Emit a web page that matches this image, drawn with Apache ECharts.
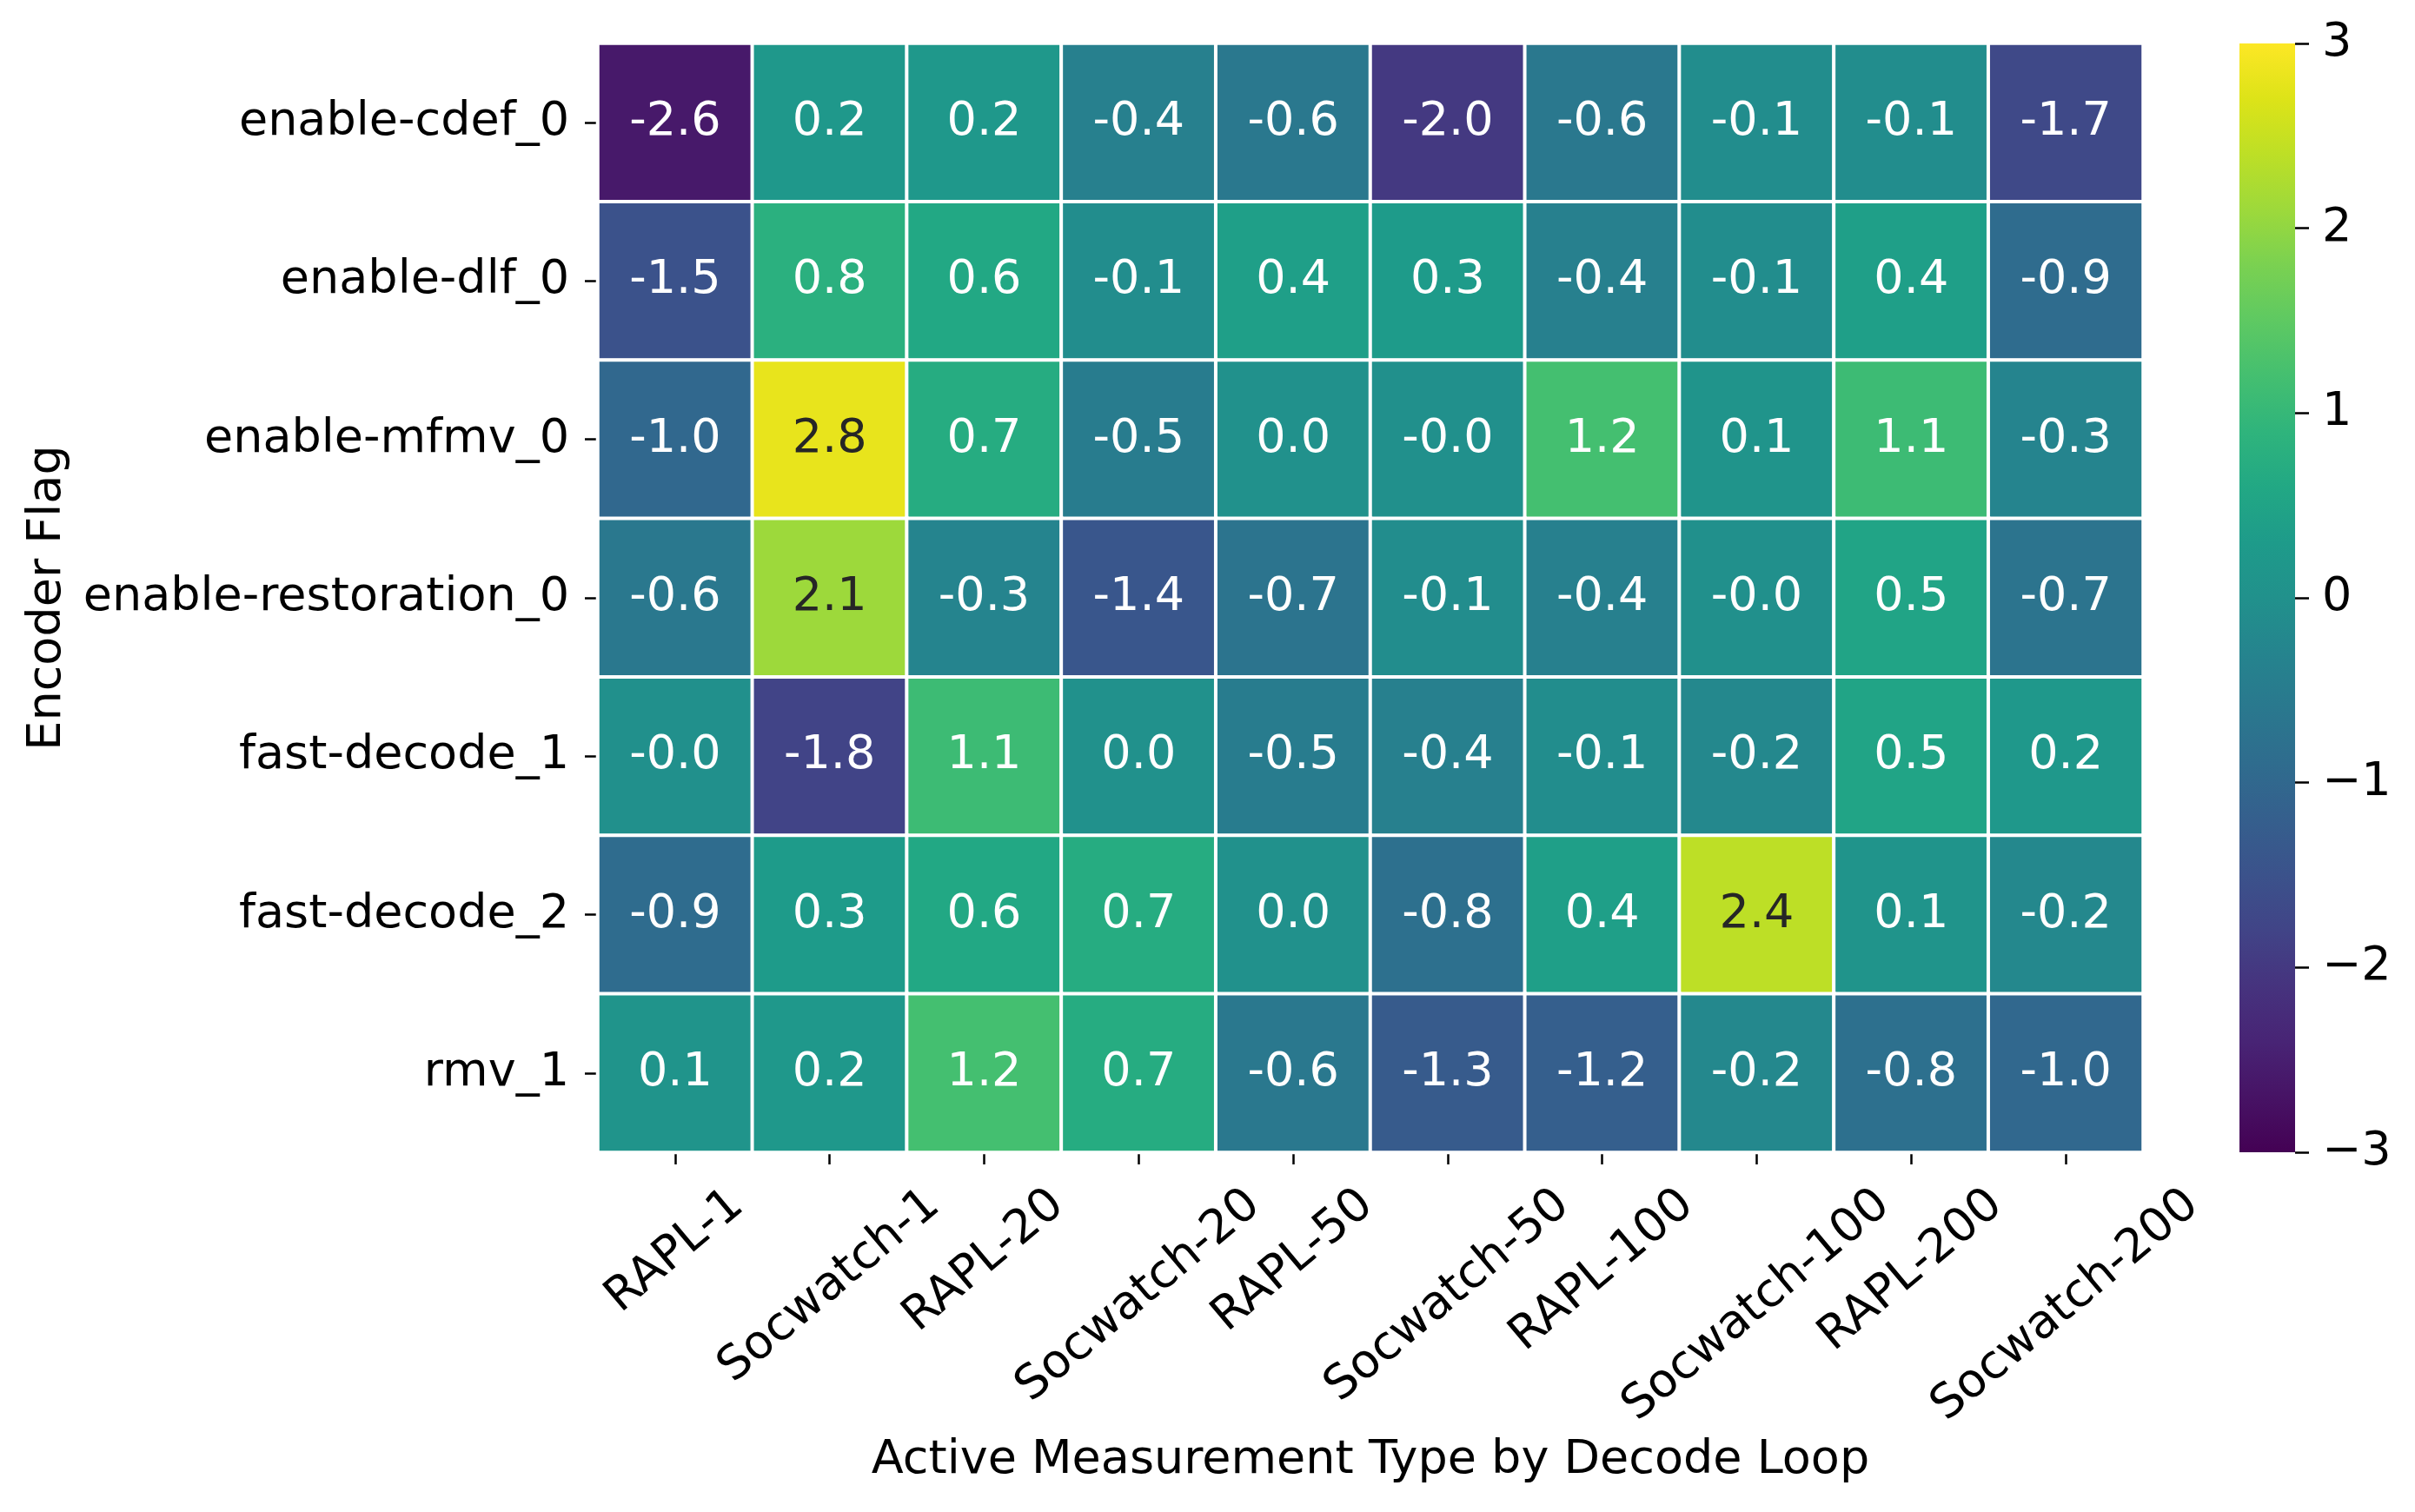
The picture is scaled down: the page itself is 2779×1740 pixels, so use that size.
<!DOCTYPE html>
<html>
<head>
<meta charset="utf-8">
<script src="https://cdn.jsdelivr.net/npm/echarts@6/dist/echarts.min.js"></script>
<style>
html,body{margin:0;padding:0;background:#fff;}
#chart{width:2779px;height:1740px;}
</style>
</head>
<body>
<div id="chart"></div>
<script>
// ---- data ----
const measurementTypes = ['RAPL-1','Socwatch-1','RAPL-20','Socwatch-20','RAPL-50','Socwatch-50','RAPL-100','Socwatch-100','RAPL-200','Socwatch-200'];
const encoderFlags = ['enable-cdef_0','enable-dlf_0','enable-mfmv_0','enable-restoration_0','fast-decode_1','fast-decode_2','rmv_1'];
const rowCdef        = [-2.6, 0.2, 0.2, -0.4, -0.6, -2.0, -0.6, -0.1, -0.1, -1.7];
const rowDlf         = [-1.5, 0.8, 0.6, -0.1, 0.4, 0.3, -0.4, -0.1, 0.4, -0.9];
const rowMfmv        = [-1.0, 2.8, 0.7, -0.5, 0.0, -0.02, 1.2, 0.1, 1.1, -0.3];
const rowRestoration = [-0.6, 2.1, -0.3, -1.4, -0.7, -0.1, -0.4, -0.02, 0.5, -0.7];
const rowFastDecode1 = [-0.02, -1.8, 1.1, 0.0, -0.5, -0.4, -0.1, -0.2, 0.5, 0.2];
const rowFastDecode2 = [-0.9, 0.3, 0.6, 0.7, 0.0, -0.8, 0.4, 2.4, 0.1, -0.2];
const rowRmv         = [0.1, 0.2, 1.2, 0.7, -0.6, -1.3, -1.2, -0.2, -0.8, -1.0];
const rows = [rowCdef, rowDlf, rowMfmv, rowRestoration, rowFastDecode1, rowFastDecode2, rowRmv];
const colorbarTicks = [-3, -2, -1, 0, 1, 2, 3];

const viridis = ['#440154','#471365','#482475','#46337e','#414487','#3b528b','#355f8d','#2f6c8e','#2a788e','#25848e','#21918c','#1e9b8a','#22a884','#2fb47c','#44bf70','#5ec962','#7ad151','#9dd93b','#bddf26','#dde318','#fde725'];

// ---- layout ----
const FONT = '"DejaVu Sans", sans-serif';
const FS = 54;
const gridL = 688, gridT = 50, gridW = 1778, gridH = 1276;
const ROT = 40;
const rad = ROT * Math.PI / 180;

// measure label widths to emulate centered rotated tick labels
const cv = document.createElement('canvas').getContext('2d');
cv.font = FS + 'px "DejaVu Sans"';
const rich = {};
measurementTypes.forEach((t, i) => {
  const L = cv.measureText(t).width;
  const D = L * Math.sin(rad) / 2;
  const P = 2 * D * Math.sin(rad);
  const Q = 2 * D * Math.cos(rad);
  rich['r' + i] = { fontSize: FS, fontFamily: FONT, color: '#000', lineHeight: 62, padding: [Q, P, 0, 0] };
});

const data = [];
rows.forEach((r, yi) => r.forEach((v, xi) => {
  data.push({ value: [xi, yi, v], label: { color: v > 1.7 ? '#262626' : '#ffffff' } });
}));

const cbGradient = new echarts.graphic.LinearGradient(0, 1, 0, 0,
  viridis.map((c, i) => ({ offset: i / (viridis.length - 1), color: c })));

const chart = echarts.init(document.getElementById('chart'), null, { renderer: 'canvas' });
chart.setOption({
  backgroundColor: '#ffffff',
  animation: false,
  textStyle: { fontFamily: FONT },
  grid: [
    { left: gridL, top: gridT, width: gridW, height: gridH },
    { left: 2577, top: 50, width: 64, height: 1276, show: true, backgroundColor: cbGradient, borderWidth: 0 }
  ],
  xAxis: [
    {
      type: 'category', data: measurementTypes, gridIndex: 0, position: 'bottom',
      name: 'Active Measurement Type by Decode Loop', nameLocation: 'middle', nameGap: 328,
      nameTextStyle: { fontSize: FS, fontFamily: FONT, color: '#000' },
      axisLine: { show: false },
      axisTick: { show: true, alignWithLabel: true, length: 14, lineStyle: { color: '#000', width: 2.5 } },
      axisLabel: {
        interval: 0, rotate: ROT, align: 'center', verticalAlign: 'middle', margin: 54,
        fontSize: FS, fontFamily: FONT, color: '#000',
        formatter: (v, i) => '{r' + i + '|' + v + '}', rich: rich
      },
      splitLine: { show: false }
    },
    { type: 'value', gridIndex: 1, min: 0, max: 1, show: false, axisLine: { onZero: false } }
  ],
  yAxis: [
    {
      type: 'category', data: encoderFlags, gridIndex: 0, inverse: true,
      name: 'Encoder Flag', nameLocation: 'middle', nameGap: 606, nameRotate: 90,
      nameTextStyle: { fontSize: FS, fontFamily: FONT, color: '#000' },
      axisLine: { show: false },
      axisTick: { show: true, alignWithLabel: true, length: 15, lineStyle: { color: '#000', width: 2.5 } },
      axisLabel: { interval: 0, margin: 33, fontSize: FS, fontFamily: FONT, color: '#000' },
      splitLine: { show: false }
    },
    {
      type: 'value', gridIndex: 1, position: 'right', min: colorbarTicks[0], max: colorbarTicks[colorbarTicks.length - 1], interval: 1,
      axisLine: { show: false, onZero: false },
      axisTick: { show: true, inside: false, length: 16, lineStyle: { color: '#000', width: 2.5 } },
      axisLabel: { margin: 31, fontSize: FS, fontFamily: FONT, color: '#000', formatter: v => (v < 0 ? '\u2212' + Math.abs(v) : String(v)) },
      splitLine: { show: false }
    }
  ],
  visualMap: {
    type: 'continuous', min: -3, max: 3, seriesIndex: 0, show: false,
    inRange: { color: viridis }
  },
  series: [
    {
      type: 'heatmap', xAxisIndex: 0, yAxisIndex: 0, data: data,
      itemStyle: { borderColor: '#ffffff', borderWidth: 4 },
      label: { show: true, fontSize: FS, fontFamily: FONT, formatter: p => p.value[2].toFixed(1) },
      emphasis: { disabled: true }
    },
    { type: 'scatter', xAxisIndex: 1, yAxisIndex: 1, data: [], silent: true }
  ]
});
</script>
</body>
</html>
